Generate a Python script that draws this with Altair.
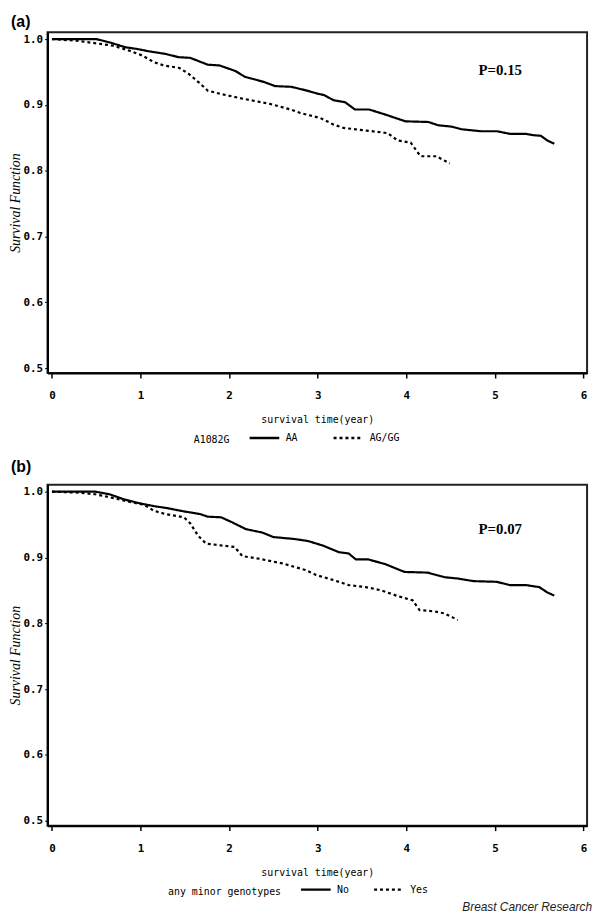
import altair as alt
import pandas as pd

# ---------------- data ----------------
x_ticks = [0, 1, 2, 3, 4, 5, 6]
y_ticks = [0.5, 0.6, 0.7, 0.8, 0.9, 1.0]

# panel (a): A1082G
a_aa_t = [0, 0.50, 0.65, 0.83, 0.96, 1.09, 1.28, 1.43, 1.56, 1.76, 1.89, 2.07, 2.18, 2.39,
          2.52, 2.70, 2.87, 3.00, 3.07, 3.18, 3.31, 3.42, 3.58, 3.77, 3.99, 4.25, 4.36, 4.51,
          4.62, 4.84, 5.02, 5.17, 5.35, 5.43, 5.52, 5.59, 5.67]
a_aa_s = [1.0, 1.0, 0.995, 0.9875, 0.985, 0.9815, 0.9775, 0.9725, 0.9715, 0.961, 0.96, 0.9515,
          0.9425, 0.935, 0.9285, 0.9275, 0.922, 0.917, 0.915, 0.907, 0.904, 0.893, 0.893, 0.885,
          0.875, 0.874, 0.869, 0.867, 0.863, 0.86, 0.86, 0.856, 0.856, 0.854, 0.853, 0.846, 0.841]
a_ag_t = [0, 0.28, 0.50, 0.69, 0.87, 1.02, 1.15, 1.26, 1.44, 1.54, 1.65, 1.76, 1.91, 2.17,
          2.46, 2.68, 2.81, 3.03, 3.18, 3.29, 3.55, 3.79, 3.90, 4.05, 4.16, 4.34, 4.49]
a_ag_s = [1.0, 0.9975, 0.9935, 0.99, 0.9825, 0.975, 0.965, 0.96, 0.956, 0.9475, 0.935, 0.9215,
          0.9165, 0.909, 0.9015, 0.8935, 0.8875, 0.88, 0.87, 0.865, 0.861, 0.857, 0.846, 0.8425,
          0.822, 0.822, 0.811]
a_groups = ["AA", "AG/GG"]
a_pval = "P=0.15"

# panel (b): any minor genotypes
b_no_t = [0, 0.49, 0.65, 0.82, 1.00, 1.15, 1.30, 1.49, 1.67, 1.76, 1.91, 2.04, 2.19, 2.37,
          2.50, 2.74, 2.89, 3.06, 3.24, 3.35, 3.43, 3.57, 3.76, 3.98, 4.24, 4.43, 4.58, 4.76,
          5.02, 5.17, 5.35, 5.50, 5.59, 5.67]
b_no_s = [1.0, 1.0, 0.996, 0.988, 0.982, 0.978, 0.975, 0.97, 0.966, 0.962, 0.961, 0.953, 0.943,
          0.938, 0.931, 0.928, 0.925, 0.918, 0.908, 0.906, 0.897, 0.897, 0.89, 0.878, 0.877,
          0.87, 0.868, 0.864, 0.863, 0.858, 0.858, 0.855, 0.847, 0.842]
b_yes_t = [0, 0.30, 0.49, 0.67, 0.86, 1.04, 1.15, 1.28, 1.49, 1.56, 1.65, 1.74, 1.93, 2.06,
           2.15, 2.34, 2.60, 2.86, 2.98, 3.17, 3.35, 3.54, 3.72, 3.91, 4.07, 4.15, 4.32, 4.43, 4.58]
b_yes_s = [1.0, 0.9985, 0.996, 0.991, 0.985, 0.98, 0.971, 0.966, 0.961, 0.952, 0.933, 0.921,
           0.918, 0.916, 0.902, 0.898, 0.891, 0.881, 0.8735, 0.866, 0.858, 0.855, 0.85, 0.841,
           0.835, 0.82, 0.818, 0.815, 0.805]
b_groups = ["No", "Yes"]
b_pval = "P=0.07"

MONO = "DejaVu Sans Mono"
W, H = 546, 345


def panel(letter, gtitle, groups, t1, s1, t2, s2, ptext, ptx, pty, legx, legy, colpad,
          titlepad, toff):
    df = pd.DataFrame({
        "t": t1 + t2,
        "s": s1 + s2,
        "g": [groups[0]] * len(t1) + [groups[1]] * len(t2),
    })
    xenc = alt.X("t:Q",
                 scale=alt.Scale(domain=[-0.05, 6.04], nice=False, zero=False),
                 axis=alt.Axis(values=x_ticks, format="d", title="survival time(year)",
                               grid=False, tickSize=5, labelPadding=12, titlePadding=14,
                               labelFont=MONO, labelFontSize=11, labelFontWeight="bold",
                               titleFont=MONO, titleFontSize=10, titleFontWeight="normal",
                               domainColor="black", domainWidth=2, tickColor="black",
                               tickWidth=1.5, labelColor="black", titleColor="black"))
    yenc = alt.Y("s:Q",
                 scale=alt.Scale(domain=[0.4925, 1.0105], nice=False, zero=False),
                 axis=alt.Axis(values=y_ticks, format=".1f", title="Survival Function",
                               grid=False, tickSize=3, labelPadding=2, titlePadding=0,
                               labelFont=MONO, labelFontSize=11, labelFontWeight="bold",
                               titleFont="Liberation Serif", titleFontSize=14,
                               titleFontStyle="italic", titleFontWeight="normal",
                               domainColor="black", domainWidth=2, tickColor="black",
                               labelColor="black", titleColor="black"))
    lines = alt.Chart(df).mark_line(color="black", strokeWidth=2.2).encode(
        x=xenc,
        y=yenc,
        strokeDash=alt.StrokeDash(
            "g:N",
            scale=alt.Scale(domain=groups, range=[[1, 0], [3, 3]]),
            legend=alt.Legend(title=gtitle, orient="none", legendX=legx, legendY=legy,
                              direction="horizontal", titleOrient="left",
                              symbolType="stroke", symbolSize=900, symbolStrokeWidth=2.5,
                              symbolStrokeColor="black", labelFont=MONO, labelFontSize=10,
                              labelColor="black", titleFont=MONO, titleFontSize=10,
                              titleFontWeight="normal", titleColor="black", labelOffset=5,
                              columnPadding=colpad, titlePadding=titlepad,
                              titleBaseline="line-top", titleLineHeight=16),
        ),
        order="t:Q",
    )
    pdf = pd.DataFrame({"t": [ptx], "s": [pty], "label": [ptext]})
    ptxt = alt.Chart(pdf).mark_text(font="Liberation Serif", fontSize=15, fontWeight="bold",
                                    color="black").encode(x=xenc, y=yenc, text="label:N")
    return alt.layer(lines, ptxt).properties(
        width=W, height=H,
        view=alt.ViewBackground(stroke="#222222", strokeWidth=2),
        title=alt.TitleParams(letter, anchor="start", frame="bounds", font="Liberation Sans",
                              fontSize=16, fontWeight="bold", color="black", offset=toff,
                              dx=2),
    )


pa = panel("(a)", "A1082G", a_groups, a_aa_t, a_aa_s, a_ag_t, a_ag_s,
           a_pval, 5.06, 0.9535, 148, 394, 30, 18, 2)
pb = panel("(b)", "any minor genotypes", b_groups, b_no_t, b_no_s, b_yes_t, b_yes_s,
           b_pval, 5.06, 0.9428, 122, 393, 19, 18, 10)

chart = alt.vconcat(pa, pb, spacing=12).resolve_scale(
    strokeDash="independent", x="independent", y="independent"
).resolve_legend(strokeDash="independent").properties(
    padding=0,
    title=alt.TitleParams("Breast Cancer Research", orient="bottom", anchor="end",
                          font="Liberation Sans", fontStyle="italic", fontSize=12,
                          fontWeight="normal", color="#222222", offset=4, dx=4),
).configure_view(stroke="#222222", strokeWidth=2).configure(background="white")

chart.save("out.html", embed_options={"renderer": "svg", "actions": False})
